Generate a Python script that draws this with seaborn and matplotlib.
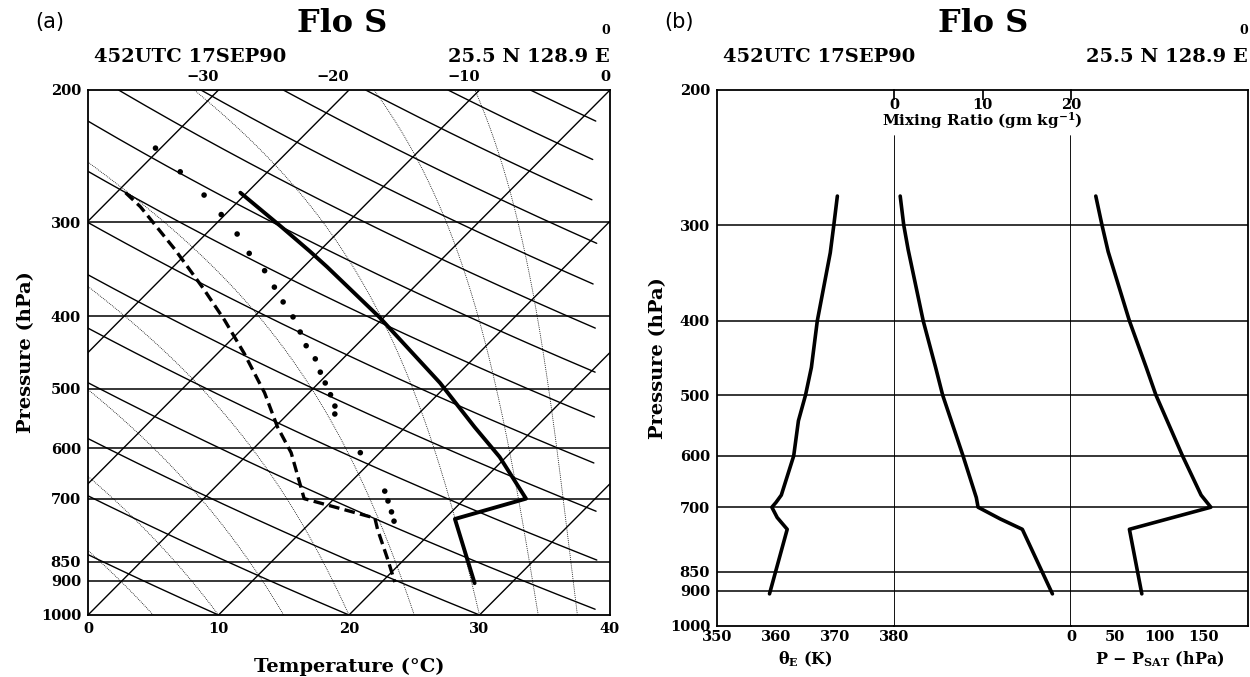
import numpy as np
import pandas as pd
import matplotlib
matplotlib.use("Agg")
import matplotlib.pyplot as plt
import matplotlib.transforms as mtransforms
from matplotlib.ticker import NullLocator
import seaborn as sns

# ---------------- panel (a): skew-T of the eye sounding ----------------
temp_p = [274, 304, 328, 344, 401, 491, 562, 616, 700, 745, 907]
temp_c = [-20.5, -14.8, -10.7, -8.2, -0.4, 9.3, 15.3, 19.5, 24.7, 20.8, 27.2]

dewp_p = [274, 286, 326, 367, 405, 448, 506, 562, 608, 700, 714, 743, 770, 845, 904]
dewp_c = [-29.3, -27.1, -21.2, -16.1, -12.0, -8.0, -3.4, 0.2, 3.2, 7.7, 10.0, 14.6, 15.7, 18.8, 21.0]

env_p = [239, 257, 276, 293, 311, 330, 348, 366, 383, 401, 420, 438, 456, 475,
         491, 509, 527, 540, 608, 684, 705, 729, 750]
env_c = [-30.4, -26.7, -23.1, -20.3, -17.6, -15.2, -12.7, -10.7, -8.9, -7.0, -5.3, -3.8,
         -2.1, -0.7, 0.5, 1.8, 3.0, 3.6, 8.5, 13.3, 14.3, 15.4, 16.3]

isotherms = list(range(-40, 41, 10))
dry_theta_c = list(range(10, 170, 10))
moist_t1000 = [5, 10, 15, 20, 25, 30, 34.5, 37.5]
isobars = [300, 400, 500, 600, 700, 850, 900]
p_ticks = [200, 300, 400, 500, 600, 700, 850, 900, 1000]
t_ticks = [0, 10, 20, 30, 40]
top_t_labels = [-30, -20, -10, 0]

# ---------------- panel (b): profiles ----------------
thetae_p = [275, 300, 326, 400, 460, 500, 540, 600, 675, 690, 700, 722, 748, 908]
thetae_k = [370.4, 369.8, 369.2, 367.0, 366.0, 365.0, 363.8, 363.0, 360.9, 360.0, 359.3, 360.2, 361.9, 358.9]

mixr_p = [275, 300, 323, 400, 460, 500, 600, 680, 700, 725, 748, 908]
mixr_g = [0.7, 1.1, 1.6, 3.3, 4.7, 5.5, 7.8, 9.3, 9.5, 12.0, 14.5, 17.9]
mixr_ticks = [0, 10, 20]

psat_p = [275, 300, 325, 400, 460, 500, 600, 675, 700, 748, 908]
psat_hpa = [28, 35, 42, 66, 85, 96, 126, 147, 158, 66, 80]

SKEW = 40.0 / np.log(5.0)


def skew_x(t, p):
    return np.asarray(t) + SKEW * np.log(1000.0 / np.asarray(p))


def moist_adiabat(t0, plev):
    def dtdp(T, p):
        es = 6.112 * np.exp(17.67 * (T - 273.15) / (T - 29.65))
        rs = 0.622 * es / (p - es)
        return (287.0 * T + 2.5e6 * rs) / (p * (1004.0 + 2.5e6 ** 2 * rs * 0.622 / (287.0 * T ** 2)))
    T = t0 + 273.15
    out = [T]
    for p0, p1 in zip(plev[:-1], plev[1:]):
        dp = p1 - p0
        k1 = dtdp(T, p0)
        k2 = dtdp(T + k1 * dp / 2, p0 + dp / 2)
        T = T + k2 * dp
        out.append(T)
    return np.array(out) - 273.15


sns.set_theme(style="white")
plt.rcParams["font.family"] = ["DejaVu Serif"]
plt.rcParams["font.weight"] = "bold"
plt.rcParams["mathtext.fontset"] = "dejavuserif"
plt.rcParams["mathtext.default"] = "bf"
for key in ["text.color", "axes.labelcolor", "xtick.color", "ytick.color", "axes.edgecolor"]:
    plt.rcParams[key] = "black"

fig = plt.figure(figsize=(12.5, 6.77), dpi=100)
W, H = 1250.0, 677.0

# ---- panel (a) ----
ax = fig.add_axes([88 / W, 1 - 615 / H, 522 / W, 525 / H])
ax.set_facecolor("none")
ax.set_yscale("log")
ax.set_xlim(0, 40)
ax.set_ylim(1000, 200)

plev = np.linspace(1000, 200, 321)
for t in isotherms:
    ax.plot(skew_x([t, t], [1000, 200]), [1000, 200], color="black", lw=1.0)
for th in dry_theta_c:
    tt = (th + 273.15) * (plev / 1000.0) ** 0.286 - 273.15
    xx = skew_x(tt, plev)
    xx = np.where(xx <= 39.0, xx, np.nan)
    ax.plot(xx, plev, color="black", lw=1.0)
for t0 in moist_t1000:
    ax.plot(skew_x(moist_adiabat(t0, plev), plev), plev, color="black", lw=0.6,
            linestyle=(0, (1, 1.3)))
for p in isobars:
    ax.axhline(p, color="black", lw=1.1)

temp_df = pd.DataFrame({"x": skew_x(temp_c, temp_p), "p": temp_p})
dewp_df = pd.DataFrame({"x": skew_x(dewp_c, dewp_p), "p": dewp_p})
env_df = pd.DataFrame({"x": skew_x(env_c, env_p), "p": env_p})
sns.lineplot(data=temp_df, x="x", y="p", sort=False, estimator=None, color="black",
             lw=2.8, ax=ax)
sns.lineplot(data=dewp_df, x="x", y="p", sort=False, estimator=None, color="black",
             lw=2.4, linestyle=(0, (3.2, 1.6)), ax=ax)
sns.scatterplot(data=env_df, x="x", y="p", color="black", s=16, edgecolor="none", ax=ax)

ax.set_yticks(p_ticks)
ax.set_yticklabels([str(p) for p in p_ticks])
ax.yaxis.set_minor_locator(NullLocator())
ax.set_xticks(t_ticks)
ax.set_xticklabels([str(t) for t in t_ticks])
ax.tick_params(length=0, labelsize=10.5, pad=5)
for lab in ax.get_xticklabels() + ax.get_yticklabels():
    lab.set_fontweight("bold")
ax.set_xlabel("Temperature (°C)", fontsize=14, fontweight="bold", labelpad=16)
ax.set_ylabel("Pressure (hPa)", fontsize=14, fontweight="bold", labelpad=4)
trans = mtransforms.blended_transform_factory(ax.transData, ax.transAxes)
for t in top_t_labels:
    ax.text(t + 40, 1.012, str(t).replace("-", "\u2212"), transform=trans, ha="right",
            va="bottom", fontsize=10.5, fontweight="bold")
for s in ax.spines.values():
    s.set_linewidth(1.3)

# ---- panel (b) ----
bw = 531 / 3.0
bl = 717.0
axes_b = [fig.add_axes([(bl + i * bw) / W, 1 - 626 / H, bw / W, 536 / H]) for i in range(3)]
series = [(thetae_k, thetae_p, (350, 380)), (mixr_g, mixr_p, (0, 20)), (psat_hpa, psat_p, (0, 200))]
for axb, (vals, pres, lim) in zip(axes_b, series):
    axb.set_facecolor("none")
    axb.set_yscale("log")
    axb.set_ylim(1000, 200)
    axb.set_xlim(*lim)
    df = pd.DataFrame({"v": vals, "p": pres})
    sns.lineplot(data=df, x="v", y="p", sort=False, estimator=None, color="black", lw=2.6, ax=axb)
    for p in isobars:
        axb.axhline(p, color="black", lw=1.1)
    axb.yaxis.set_minor_locator(NullLocator())
    axb.set_xlabel("")
    axb.set_ylabel("")
    for s in axb.spines.values():
        s.set_linewidth(1.3)

a1, a2, a3 = axes_b
a1.set_yticks(p_ticks)
a1.set_yticklabels([str(p) for p in p_ticks])
a1.tick_params(axis="y", length=0, labelsize=10.5, pad=5)
a1.set_xticks([350, 360, 370, 380])
a1.set_xticklabels(["350", "360", "370", "380"])
a1.tick_params(axis="x", direction="in", length=4, labelsize=10.5, pad=3)
a1.spines["right"].set_visible(False)
a1.set_ylabel("Pressure (hPa)", fontsize=14, fontweight="bold", labelpad=2)
a1.set_xlabel(r"$\theta_{E}$ (K)", fontsize=11.5, fontweight="bold", labelpad=4)

a2.set_yticks([])
a2.set_xticks(mixr_ticks)
a2.tick_params(axis="x", bottom=False, top=True, direction="in", length=7,
               labelbottom=False, labeltop=False)
a2.spines["left"].set_visible(False)
a2.spines["right"].set_visible(False)
for v in [0, 20]:
    a2.axvline(v, ymin=0, ymax=0.915, color="black", lw=1.3)
trans2 = mtransforms.blended_transform_factory(a2.transData, a2.transAxes)
for v in mixr_ticks:
    a2.text(v, 0.985, str(v), transform=trans2, ha="center", va="top", fontsize=10.5,
            fontweight="bold")
a2.text(10, 0.943, r"Mixing Ratio (gm kg$^{-1}$)", transform=trans2, ha="center",
        va="center", fontsize=11, fontweight="bold")

a3.set_yticks([])
a3.set_xticks([0, 50, 100, 150])
a3.set_xticklabels(["0", "50", "100", "150"])
a3.tick_params(axis="x", direction="in", length=4, labelsize=10.5, pad=3)
a3.spines["left"].set_visible(False)
a3.set_xlabel(r"P $-$ P$_{\rm SAT}$ (hPa)", fontsize=11.5, fontweight="bold", labelpad=4)
for axb in axes_b:
    for lab in axb.get_xticklabels() + axb.get_yticklabels():
        lab.set_fontweight("bold")

# ---- headers ----
for lab, x0, x1, xc in [("(a)", 88, 610, 342), ("(b)", 717, 1248, 983)]:
    fig.text((x0 - 38) / W, 1 - 22 / H, lab, fontsize=15, family="DejaVu Sans",
             fontweight="normal", ha="center", va="center")
    fig.text(xc / W, 1 - 24 / H, "Flo S", fontsize=23, fontweight="bold",
             ha="center", va="center")
    fig.text((x1 - 4) / W, 1 - 31 / H, "0", fontsize=9, fontweight="bold", ha="center",
             va="center")
    fig.text((x0 + 6) / W, 1 - 57 / H, "452UTC 17SEP90", fontsize=14, fontweight="bold",
             ha="left", va="center")
    fig.text(x1 / W, 1 - 57 / H, "25.5 N 128.9 E", fontsize=14, fontweight="bold",
             ha="right", va="center")

fig.savefig("out.png", dpi=100)
